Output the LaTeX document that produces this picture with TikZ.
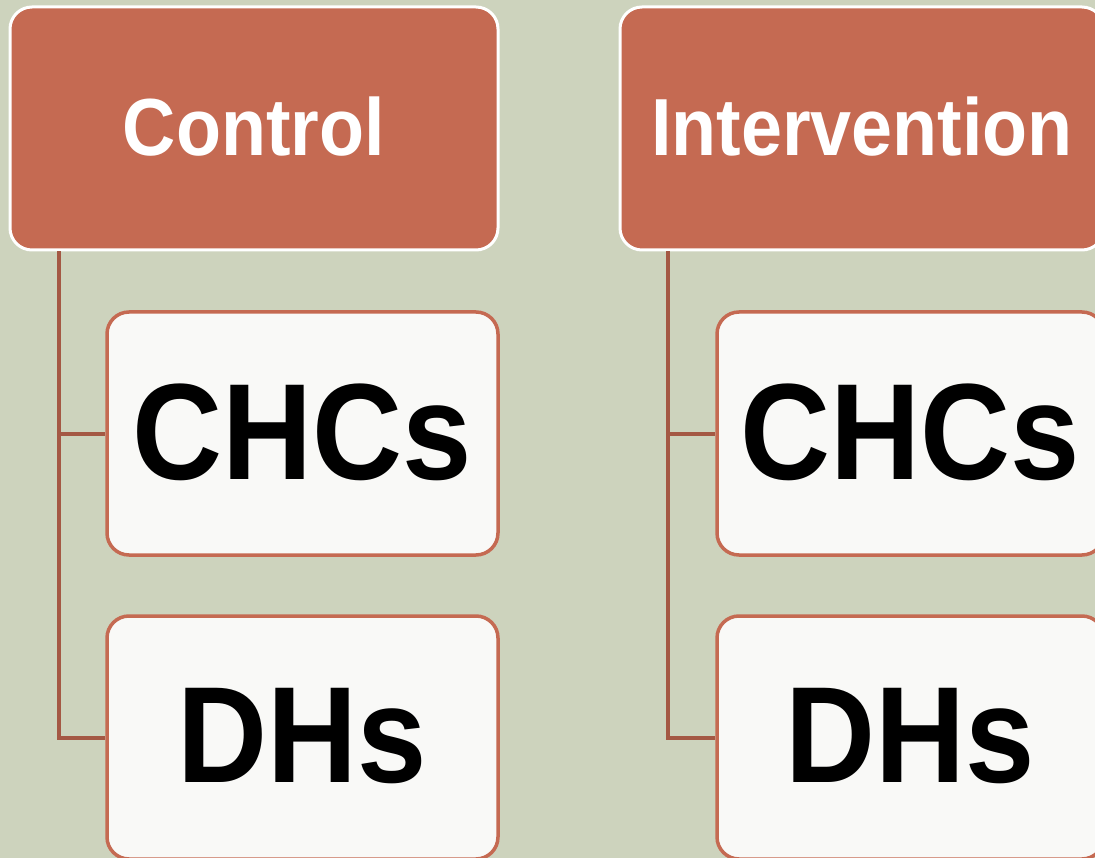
\documentclass[tikz,border=0pt]{standalone}
\usepackage{fontspec}
\setmainfont{Liberation Sans}
\newfontfamily\labfont{Liberation Sans}[FakeStretch=0.91]
\definecolor{bgsage}{RGB}{205,211,189}
\definecolor{terra}{RGB}{197,106,82}
\definecolor{linkbrown}{RGB}{164,88,68}
\definecolor{offwhite}{RGB}{249,249,247}
\tikzset{
  parentbox/.style={draw=white, line width=3pt, fill=terra, rounded corners=22pt,
    minimum height=243pt, text=white, font=\labfont\bfseries\fontsize{81}{95}\selectfont, inner sep=0pt},
  childbox/.style={draw=terra, line width=3.5pt, fill=offwhite, rounded corners=22pt,
    minimum height=243pt, text=black, font=\labfont\bfseries\fontsize{137}{160}\selectfont, inner sep=0pt},
  link/.style={draw=linkbrown, line width=4pt}
}
\newcommand{\lift}[1]{\raisebox{4pt}{#1}}
\begin{document}
\begin{tikzpicture}[x=1pt,y=-1pt]
\useasboundingbox (0,0) rectangle (1095,858);
\clip (0,0) rectangle (1095,858);
\fill[bgsage] (0,0) rectangle (1095,858);
% left column
\node[parentbox, minimum width=488pt] (ctrl) at (254,128.5) {\lift{Control}};
\node[childbox, minimum width=391pt] (chc1) at (302.5,433.5) {\lift{CHCs}};
\node[childbox, minimum width=391pt] (dh1) at (302.5,737.5) {\lift{DHs}};
% right column
\node[parentbox, minimum width=484pt] (intv) at (862,128.5) {\lift{Intervention}};
\node[childbox, minimum width=387pt] (chc2) at (910.5,433.5) {\lift{CHCs}};
\node[childbox, minimum width=387pt] (dh2) at (910.5,737.5) {\lift{DHs}};
% connectors
\coordinate (l1) at ([xshift=-195pt]ctrl.south);
\coordinate (r1) at ([xshift=-194pt]intv.south);
\draw[link] (l1) |- (dh1.west);
\draw[link] (l1 |- chc1.west) -- (chc1.west);
\draw[link] (r1) |- (dh2.west);
\draw[link] (r1 |- chc2.west) -- (chc2.west);
\end{tikzpicture}
\end{document}
